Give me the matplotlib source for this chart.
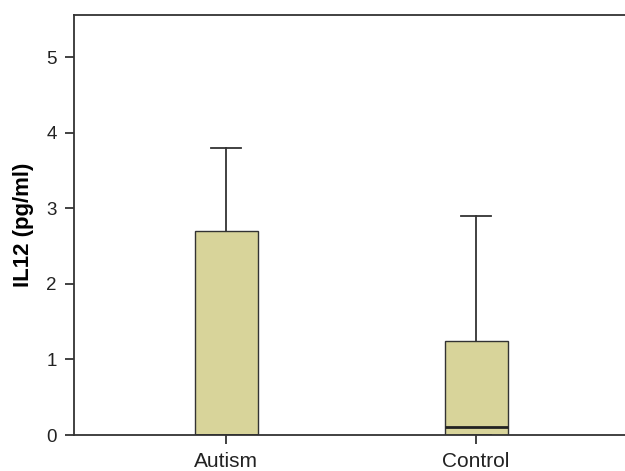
import matplotlib.pyplot as plt

plt.rcParams['font.family'] = ['Liberation Sans', 'DejaVu Sans']

groups = ['Autism', 'Control']
whisker_low = [0.0, 0.0]
q1 = [0.0, 0.0]
median = [0.0, 0.1]
q3 = [2.7, 1.25]
whisker_high = [3.8, 2.9]

stats = []
for i, g in enumerate(groups):
    stats.append({'label': g, 'whislo': whisker_low[i], 'q1': q1[i],
                  'med': median[i], 'q3': q3[i], 'whishi': whisker_high[i],
                  'fliers': []})

fig = plt.figure(figsize=(6.25, 4.71), dpi=100)
ax = fig.add_axes([0.1184, 0.0764, 0.8816, 0.8917])

edge = '#333333'
ax.bxp(stats, positions=[1, 2], widths=0.252, patch_artist=True,
       boxprops=dict(facecolor='#d8d49a', edgecolor=edge, linewidth=1.0),
       medianprops=dict(color='#222222', linewidth=2.0),
       whiskerprops=dict(color=edge, linewidth=1.3),
       capprops=dict(color=edge, linewidth=1.3),
       capwidths=0.12, showfliers=False)

ax.set_xlim(0.392, 2.596)
ax.set_ylim(0, 5.56)
ax.set_yticks([0, 1, 2, 3, 4, 5])
ax.set_xticks([1, 2])
ax.set_xticklabels(groups)

ax.spines['right'].set_visible(False)
for s in ['left', 'top', 'bottom']:
    ax.spines[s].set_color(edge)
    ax.spines[s].set_linewidth(1.3)

ax.tick_params(axis='both', colors=edge, labelcolor='#222222',
               length=6.5, width=1.3, direction='out')
ax.tick_params(axis='y', labelsize=13.5, pad=6)
ax.tick_params(axis='x', labelsize=15, pad=6)
ax.set_ylabel('IL12 (pg/ml)', fontsize=16, fontweight='bold', labelpad=9)

fig.savefig('out.png', dpi=100)
